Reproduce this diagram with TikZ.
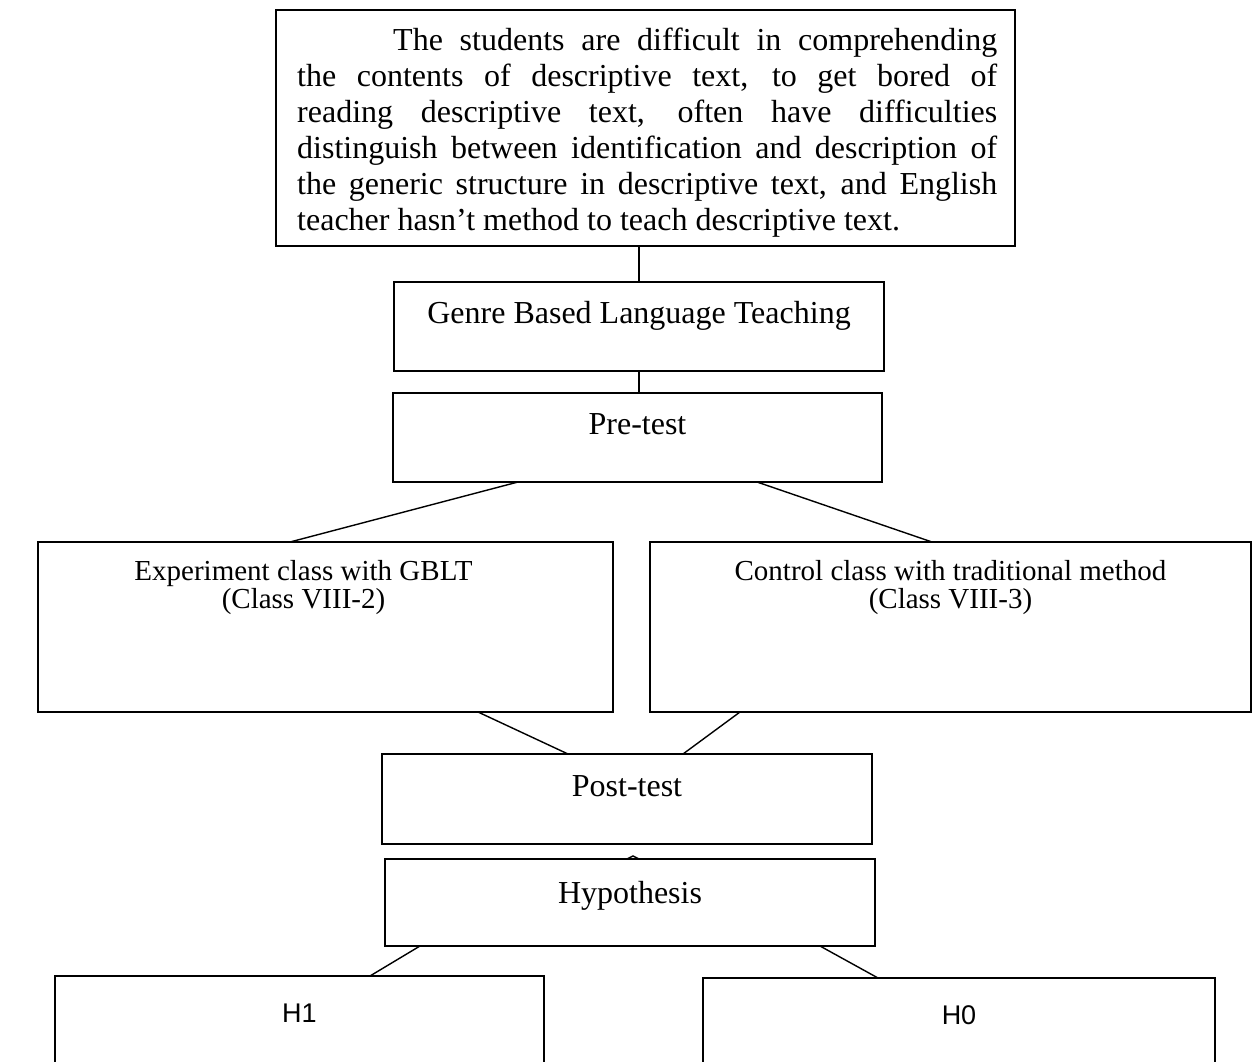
\documentclass[tikz,border=0pt]{standalone}
\usepackage{fontspec}
\setmainfont{Liberation Serif}
\newfontfamily\hsans{Liberation Sans}

\tikzset{
  box/.style={draw, line width=1.4pt, anchor=north west, inner sep=0pt, outer sep=0pt},
  txt/.style={anchor=base, inner sep=0pt, align=center},
  link/.style={line width=1.4pt},
  big/.style={font=\fontsize{32}{36}\selectfont},
  mid/.style={font=\fontsize{29}{28}\selectfont},
  hfont/.style={font=\hsans\fontsize{27}{30}\selectfont},
}
\newcommand{\jline}[2]{\makebox[#1pt][s]{#2}}

\begin{document}
\begin{tikzpicture}[x=1pt,y=-1pt]
\useasboundingbox (0,0) rectangle (1256,1062);
\clip (0,0) rectangle (1256,1062);

% problem statement (base = last line)
\node[box, minimum width=739pt, minimum height=236pt,
  label={[txt, big, anchor=base west, align=left, xshift=21pt, yshift=-220pt]north west:{%
    \hspace*{96pt}\jline{604}{The students are difficult in comprehending}\\
    \jline{700}{the contents of descriptive text, to get bored of}\\
    \jline{700}{reading descriptive text, often have difficulties}\\
    \jline{700}{distinguish between identification and description of}\\
    \jline{700}{the generic structure in descriptive text, and English}\\
    teacher hasn't method to teach descriptive text.}}] (prob) at (276,10) {};

\node[box, minimum width=490pt, minimum height=89pt,
  label={[txt, big, yshift=-41pt]north:Genre Based Language Teaching}] (gblt) at (394,282) {};
\node[box, minimum width=489pt, minimum height=89pt,
  label={[txt, big, yshift=-41pt]north:Pre-test}] (pre) at (393,393) {};

% the two classes
\node[box, minimum width=575pt, minimum height=170pt,
  label={[txt, mid, xshift=-22pt, yshift=-66pt]north:{Experiment class with GBLT\\(Class VIII-2)}}] (exp) at (38,542) {};
\node[box, minimum width=601pt, minimum height=170pt,
  label={[txt, mid, yshift=-66pt]north:{Control class with traditional method\\(Class VIII-3)}}] (ctrl) at (650,542) {};

\node[box, minimum width=490pt, minimum height=90pt,
  label={[txt, big, yshift=-42pt]north:Post-test}] (post) at (382,754) {};
\node[box, minimum width=490pt, minimum height=87pt,
  label={[txt, big, yshift=-44pt]north:Hypothesis}] (hyp) at (385,859) {};

\node[box, minimum width=489pt, minimum height=150pt,
  label={[txt, hfont, yshift=-46pt]north:H1}] (h1) at (55,976) {};
\node[box, minimum width=512pt, minimum height=150pt,
  label={[txt, hfont, yshift=-46pt]north:H0}] (h0) at (703,978) {};

% connectors
\draw[link] (gblt.north) -- (gblt.north |- prob.south);
\draw[link] (gblt.south) -- (gblt.south |- pre.north);
\draw[link] ([xshift=125pt]pre.south west) -- ([xshift=252pt]exp.north west);
\draw[link] ([xshift=364pt]pre.south west) -- ([xshift=282pt]ctrl.north west);
\draw[link] ([xshift=440pt]exp.south west) -- ([xshift=186pt]post.north west);
\draw[link] ([xshift=90pt]ctrl.south west) -- ([xshift=301pt]post.north west);
\draw[link] ([xshift=-3pt]hyp.north) -- ++(6,-3) -- ++(6,3);
\draw[link] ([xshift=35pt]hyp.south west) -- ([xshift=315pt]h1.north west);
\draw[link] ([xshift=435pt]hyp.south west) -- ([xshift=175pt]h0.north west);
\end{tikzpicture}
\end{document}
